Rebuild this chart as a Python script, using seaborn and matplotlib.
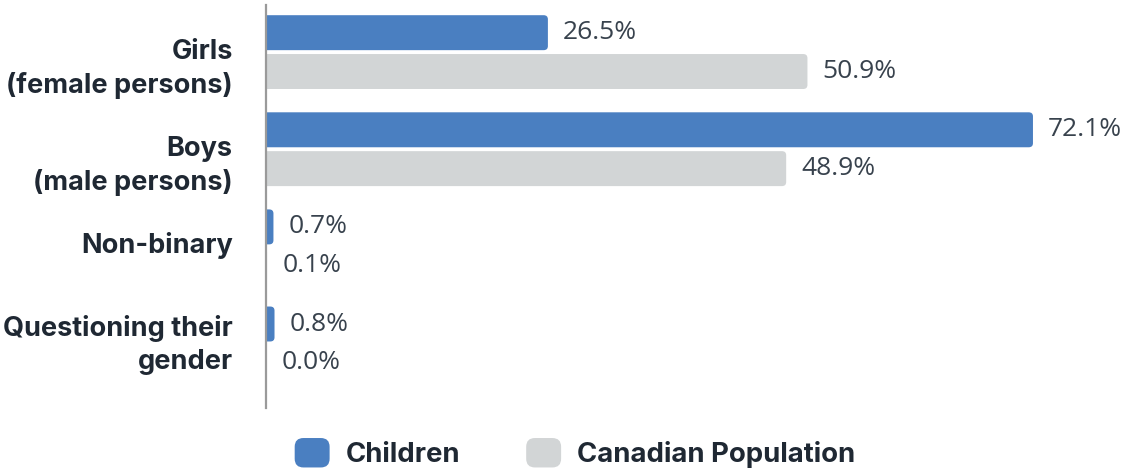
import pandas as pd
import seaborn as sns
import matplotlib.pyplot as plt
from matplotlib.patches import FancyBboxPatch, Patch
from matplotlib.legend_handler import HandlerPatch
from matplotlib.transforms import ScaledTranslation

# data
categories = ['Girls\n(female persons)', 'Boys\n(male persons)', 'Non-binary',
              'Questioning their\ngender']
children = [26.5, 72.1, 0.7, 0.8]
canadian_pop = [50.9, 48.9, 0.1, 0.0]
series = ['Children', 'Canadian Population']
colors = ['#4a7fc1', '#d2d5d6']

df = pd.DataFrame({
    'category': categories * 2,
    'value': children + canadian_pop,
    'group': [series[0]] * 4 + [series[1]] * 4,
})


class RoundHandler(HandlerPatch):
    # rounded square legend keys
    def create_artists(self, legend, orig_handle, xdescent, ydescent,
                       width, height, fontsize, trans):
        p = FancyBboxPatch((-xdescent, -ydescent), width, height,
                           boxstyle=f'round,pad=0,rounding_size={0.25 * width}',
                           facecolor=orig_handle.get_facecolor(),
                           edgecolor='none', transform=trans)
        return [p]


sns.set_theme(style='white')
plt.rcParams['font.family'] = ['Inter', 'DejaVu Sans']

fig = plt.figure(figsize=(11.23, 4.71), dpi=100, facecolor='white')
ax = fig.add_axes([266 / 1123, 63 / 471, 851 / 1123, 403 / 471])

sns.barplot(data=df, y='category', x='value', hue='group', orient='h',
            palette=colors, saturation=1, width=0.8, gap=0.1, legend=False,
            ax=ax, order=categories, hue_order=series)

ax.set_xlim(0, 80)
ax.set_ylim(3.665, -0.485)

# swap plain rectangles for rounded ones (left corners hidden behind x=0)
text_col = '#38424d'
for cont in ax.containers:
    for bar in cont:
        x, y = bar.get_x(), bar.get_y()
        w, h = bar.get_width(), bar.get_height()
        fb = FancyBboxPatch((x - 0.6, y), w + 0.6, h,
                            boxstyle='round,pad=0,rounding_size=0.4',
                            mutation_aspect=0.105,
                            facecolor=bar.get_facecolor(), edgecolor='none')
        bar.set_visible(False)
        ax.add_patch(fb)
    ax.bar_label(cont, labels=[f'{v:.1f}%' for v in cont.datavalues],
                 padding=11, fontsize=19, color=text_col,
                 family=['Open Sans', 'DejaVu Sans'])

ax.set_xlabel('')
ax.set_ylabel('')
ax.set_xticks([])
ax.tick_params(axis='y', length=0, pad=24)
# the two-line labels sit a little below their group centre in the original
label_shift_px = [-10, -10, 4, 5]
for lab, dy in zip(ax.get_yticklabels(), label_shift_px):
    lab.set_fontsize(19.5)
    lab.set_fontweight('bold')
    lab.set_color('#1f2833')
    lab.set_multialignment('right')
    lab.set_linespacing(1.35)
    lab.set_transform(lab.get_transform() +
                      ScaledTranslation(0, dy / 100, fig.dpi_scale_trans))

for s in ['top', 'right', 'bottom']:
    ax.spines[s].set_visible(False)
ax.spines['left'].set_color('#9a9a9a')
ax.spines['left'].set_linewidth(1.6)
ax.spines['left'].set_zorder(5)

handles = [Patch(facecolor=c, edgecolor='none') for c in colors]
fig.legend(handles, series, loc='center', bbox_to_anchor=(575 / 1123, 1 - 453 / 471),
           ncol=2, frameon=False, handlelength=1.27, handleheight=1.27,
           columnspacing=2.4, handletextpad=0.58,
           handler_map={Patch: RoundHandler()},
           prop={'size': 19.8, 'weight': 'bold'}, labelcolor='#1f2833')

plt.savefig('out.png', dpi=100)
